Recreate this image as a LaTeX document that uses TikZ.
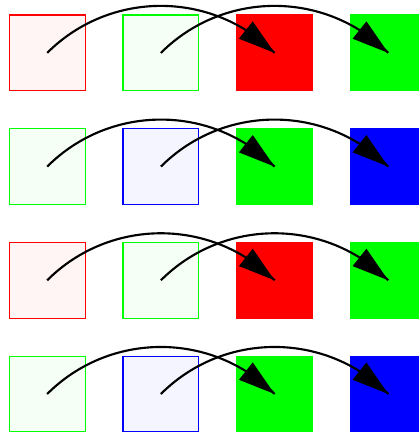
\documentclass[tikz,border=0pt]{standalone}
\usetikzlibrary{arrows.meta}
\tikzset{
 sq/.style={minimum size=2cm, inner sep=0pt, line width=0.8pt},
 lightsq/.style={sq, draw=#1, fill=#1!4},
 solidsq/.style={sq, draw=#1, fill=#1},
 jump/.style={line width=1.6pt, bend left=45},
 jumptip/.style={line width=1.6pt, -{Triangle[length=0.97cm,width=0.57cm]}},
}
\begin{document}
\begin{tikzpicture}
\useasboundingbox (0,0) rectangle (11.055,-11.478);
\foreach \r/\ca/\cb [count=\j from 0] in {1/red/green, 2/green/blue, 3/red/green, 4/green/blue} {
  \pgfmathsetmacro\yy{-(1.396+3*\j)}
  \node[lightsq=\ca] (a\r) at (1.245,\yy) {};
  \node[lightsq=\cb] (b\r) at (4.245,\yy) {};
  \node[solidsq=\ca] (c\r) at (7.245,\yy) {};
  \node[solidsq=\cb] (d\r) at (10.245,\yy) {};
  \draw[jump] (a\r.center) to coordinate[pos=0.86] (ta\r) (c\r.center);
  \draw[jumptip] (ta\r) -- (c\r.center);
  \draw[jump] (b\r.center) to coordinate[pos=0.86] (tb\r) (d\r.center);
  \draw[jumptip] (tb\r) -- (d\r.center);
}
\end{tikzpicture}
\end{document}
